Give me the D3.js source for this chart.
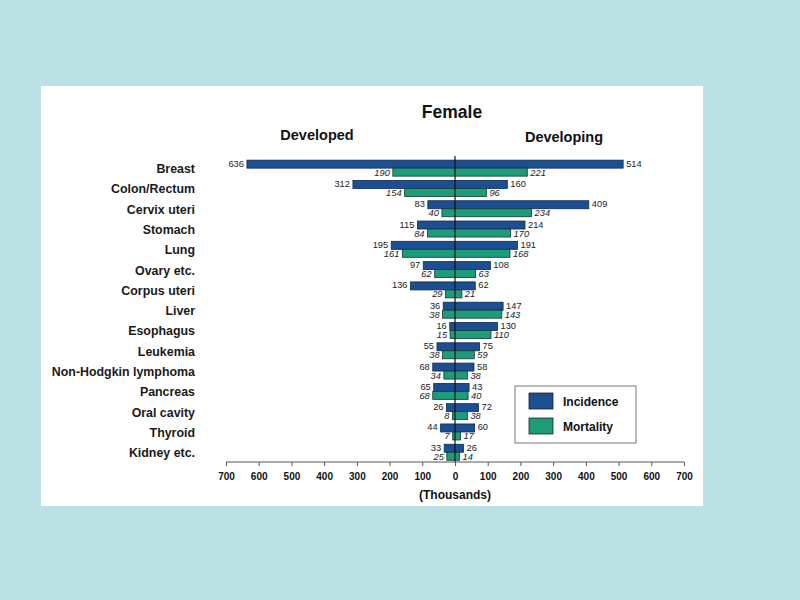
<!DOCTYPE html>
<html><head><meta charset="utf-8">
<script src="https://cdn.jsdelivr.net/npm/d3@7"></script>
<style>
html,body{margin:0;padding:0;background:#BCE1E4;}
svg{display:block;font-family:"Liberation Sans",Arial,sans-serif;}
</style></head>
<body>
<svg id="c" width="800" height="600"></svg>
<script>
const categories = ["Breast","Colon/Rectum","Cervix uteri","Stomach","Lung","Ovary etc.","Corpus uteri","Liver","Esophagus","Leukemia","Non-Hodgkin lymphoma","Pancreas","Oral cavity","Thyroid","Kidney etc."];
const developedIncidence = [636,312,83,115,195,97,136,36,16,55,68,65,26,44,33];
const developedMortality = [190,154,40,84,161,62,29,38,15,38,34,68,8,7,25];
const developingIncidence = [514,160,409,214,191,108,62,147,130,75,58,43,72,60,26];
const developingMortality = [221,96,234,170,168,63,21,143,110,59,38,40,38,17,14];
const tickValues = [-700,-600,-500,-400,-300,-200,-100,0,100,200,300,400,500,600,700];
const seriesNames = ["Incidence","Mortality"];
const colors = {Incidence:"#1B4F91", Mortality:"#1E9B79"};

const svg = d3.select("#c");
svg.append("rect").attr("x",41).attr("y",86).attr("width",662).attr("height",420).attr("fill","#ffffff");

const x = d3.scaleLinear().domain([-700,700]).range([226,684]);
const y = d3.scaleBand().domain(categories).range([158,462.4]);
const barH = 8;

// Titles
svg.append("text").attr("x",452).attr("y",118).attr("text-anchor","middle").attr("font-weight","bold").attr("font-size",17.5).attr("fill","#111").text("Female");
svg.append("text").attr("x",317).attr("y",140).attr("text-anchor","middle").attr("font-weight","bold").attr("font-size",14.5).attr("fill","#111").text("Developed");
svg.append("text").attr("x",564).attr("y",142).attr("text-anchor","middle").attr("font-weight","bold").attr("font-size",14.5).attr("fill","#111").text("Developing");

// Category labels
svg.append("g").selectAll("text").data(categories).join("text")
  .attr("x",195).attr("y",d=>y(d)+y.bandwidth()/2+5)
  .attr("text-anchor","end").attr("font-weight","bold").attr("font-size",12.4).attr("fill","#1a1a1a").text(d=>d);

const rows = categories.map((c,i)=>({c, di:developedIncidence[i], dm:developedMortality[i], gi:developingIncidence[i], gm:developingMortality[i]}));
const g = svg.append("g");
rows.forEach(r=>{
  const mid = y(r.c)+y.bandwidth()/2;
  g.append("rect").attr("x",x(-r.di)).attr("y",mid-barH).attr("width",x(r.gi)-x(-r.di)).attr("height",barH)
    .attr("fill",colors.Incidence).attr("stroke","#0d2a4f").attr("stroke-width",0.8);
  g.append("rect").attr("x",x(-r.dm)).attr("y",mid).attr("width",x(r.gm)-x(-r.dm)).attr("height",barH)
    .attr("fill",colors.Mortality).attr("stroke","#123a2e").attr("stroke-width",0.8);
  g.append("text").attr("x",x(-r.di)-3).attr("y",mid-1.5).attr("text-anchor","end").attr("font-size",9.3).attr("fill","#222").text(r.di);
  g.append("text").attr("x",x(r.gi)+3).attr("y",mid-1.5).attr("text-anchor","start").attr("font-size",9.3).attr("fill","#222").text(r.gi);
  g.append("text").attr("x",x(-r.dm)-3).attr("y",mid+7.5).attr("text-anchor","end").attr("font-size",9.3).attr("font-style","italic").attr("fill","#222").text(r.dm);
  g.append("text").attr("x",x(r.gm)+3).attr("y",mid+7.5).attr("text-anchor","start").attr("font-size",9.3).attr("font-style","italic").attr("fill","#222").text(r.gm);
});

// center line
svg.append("line").attr("x1",x(0)).attr("x2",x(0)).attr("y1",156).attr("y2",462).attr("stroke","#111").attr("stroke-width",1.2);

// axis
const axis = d3.axisBottom(x).tickValues(tickValues).tickFormat(d=>Math.abs(d)).tickSize(4).tickPadding(7);
const ax = svg.append("g").attr("transform","translate(0,462)").call(axis);
ax.select(".domain").attr("stroke","#555").attr("d","M226,0H684");
ax.selectAll(".tick line").attr("stroke","#555");
ax.selectAll(".tick text").attr("font-size",10).attr("font-weight","bold").attr("fill","#111").attr("font-family","Liberation Sans,Arial,sans-serif");
svg.append("text").attr("x",455).attr("y",499).attr("text-anchor","middle").attr("font-weight","bold").attr("font-size",12).attr("fill","#111").text("(Thousands)");

// legend
const lg = svg.append("g");
lg.append("rect").attr("x",515).attr("y",386).attr("width",121).attr("height",57).attr("fill","#fff").attr("stroke","#777").attr("stroke-width",1);
seriesNames.forEach((s,i)=>{
  const yy = 393 + i*25;
  lg.append("rect").attr("x",529).attr("y",yy).attr("width",24).attr("height",16).attr("fill",colors[s]).attr("stroke","#222").attr("stroke-width",0.8);
  lg.append("text").attr("x",563).attr("y",yy+12.5).attr("font-weight","bold").attr("font-size",12).attr("fill","#111").text(s);
});
</script>
</body></html>
